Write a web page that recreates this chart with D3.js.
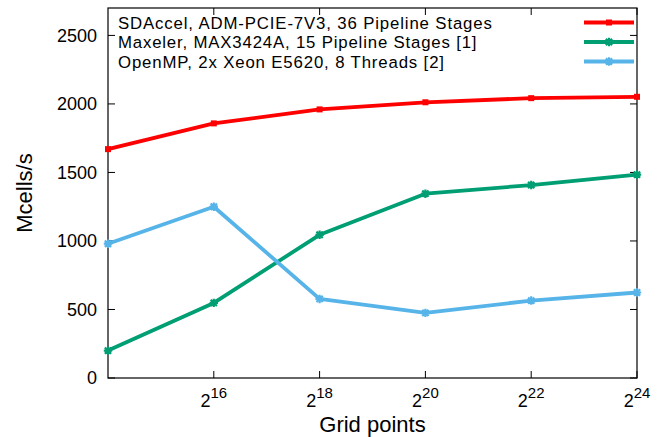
<!DOCTYPE html>
<html><head><meta charset="utf-8">
<script src="https://cdn.jsdelivr.net/npm/d3@7"></script>
<style>body{margin:0;background:#fff}svg{display:block}text{font-family:"Liberation Sans",Arial,sans-serif;fill:#000}</style>
</head><body><svg id="c" width="663" height="437"></svg>
<script>
const exponents = [14, 16, 18, 20, 22, 24];
const xTickExps = [16, 18, 20, 22, 24];
const yTicks = [0, 500, 1000, 1500, 2000, 2500];
const seriesNames = ["SDAccel, ADM-PCIE-7V3, 36 Pipeline Stages", "Maxeler, MAX3424A, 15 Pipeline Stages [1]", "OpenMP, 2x Xeon E5620, 8 Threads [2]"];
const sdaccel = [1670, 1858, 1960, 2012, 2042, 2052];
const maxeler = [200, 548, 1045, 1345, 1408, 1484];
const openmp = [980, 1250, 577, 475, 565, 624];
const colors = ["#ff0000", "#009e73", "#56b4e9"];

const svg = d3.select("#c");
const L = 108, R = 637, T = 8, B = 378;
const x = d3.scaleLinear().domain([14, 24]).range([L, R]);
const y = d3.scaleLinear().domain([0, 2700]).range([B, T]);

// frame
svg.append("rect").attr("x", L).attr("y", T).attr("width", R - L).attr("height", B - T)
  .attr("fill", "none").attr("stroke", "#000").attr("stroke-width", 1.2);

// y ticks
const gy = svg.append("g");
yTicks.forEach(v => {
  gy.append("line").attr("x1", L).attr("x2", L + 7).attr("y1", y(v)).attr("y2", y(v)).attr("stroke", "#000");
  gy.append("line").attr("x1", R).attr("x2", R - 7).attr("y1", y(v)).attr("y2", y(v)).attr("stroke", "#000");
  gy.append("text").attr("x", L - 11).attr("y", y(v)).attr("dy", "0.36em").attr("text-anchor", "end")
    .attr("font-size", 18).text(v);
});
// x ticks
const gx = svg.append("g");
xTickExps.forEach(e => {
  gx.append("line").attr("x1", x(e)).attr("x2", x(e)).attr("y1", B).attr("y2", B - 7).attr("stroke", "#000");
  gx.append("line").attr("x1", x(e)).attr("x2", x(e)).attr("y1", T).attr("y2", T + 7).attr("stroke", "#000");
  const t = gx.append("text").attr("x", x(e)).attr("y", 407).attr("text-anchor", "middle").attr("font-size", 18);
  t.append("tspan").text("2");
  t.append("tspan").attr("dy", -9).attr("font-size", 15).text(e);
});

// axis titles
svg.append("text").attr("x", (L + R) / 2).attr("y", 432).attr("text-anchor", "middle").attr("font-size", 22).text("Grid points");
svg.append("text").attr("transform", `translate(32,${(T + B) / 2}) rotate(-90)`).attr("text-anchor", "middle")
  .attr("font-size", 22).text("Mcells/s");

const series = [sdaccel, maxeler, openmp];
const line = d3.line().x((d, i) => x(exponents[i])).y(d => y(d));

function marker(g, cx, cy, k, c) {
  if (k === 0) {
    g.append("rect").attr("x", cx - 3).attr("y", cy - 3).attr("width", 6).attr("height", 6).attr("fill", c);
  } else {
    const s = 4.2;
    const p = `M${cx - s},${cy}L${cx + s},${cy}M${cx},${cy - s}L${cx},${cy + s}M${cx - s * 0.75},${cy - s * 0.75}L${cx + s * 0.75},${cy + s * 0.75}M${cx - s * 0.75},${cy + s * 0.75}L${cx + s * 0.75},${cy - s * 0.75}`;
    g.append("path").attr("d", p).attr("stroke", c).attr("stroke-width", 2.2).attr("fill", "none");
  }
}

// legend
const legY = [22.5, 42, 61.5];
const legFont = 16.8;
seriesNames.forEach((n, k) => {
  const t = svg.append("text").attr("x", 118).attr("y", legY[k]).attr("dy", "0.36em").attr("font-size", legFont).text(n);
  const w = t.node().getComputedTextLength();
  t.attr("textLength", w * 18.5 / legFont).attr("lengthAdjust", "spacing");
  svg.append("line").attr("x1", 584).attr("x2", 634).attr("y1", legY[k]).attr("y2", legY[k])
    .attr("stroke", colors[k]).attr("stroke-width", 3.8);
  marker(svg, 609, legY[k], k, colors[k]);
});

// series
const plot = svg.append("g");
series.forEach((s, k) => {
  plot.append("path").datum(s).attr("d", line).attr("fill", "none").attr("stroke", colors[k])
    .attr("stroke-width", 3.8).attr("stroke-linejoin", "round");
});
series.forEach((s, k) => {
  s.forEach((v, i) => marker(plot, x(exponents[i]), y(v), k, colors[k]));
});
</script></body></html>
